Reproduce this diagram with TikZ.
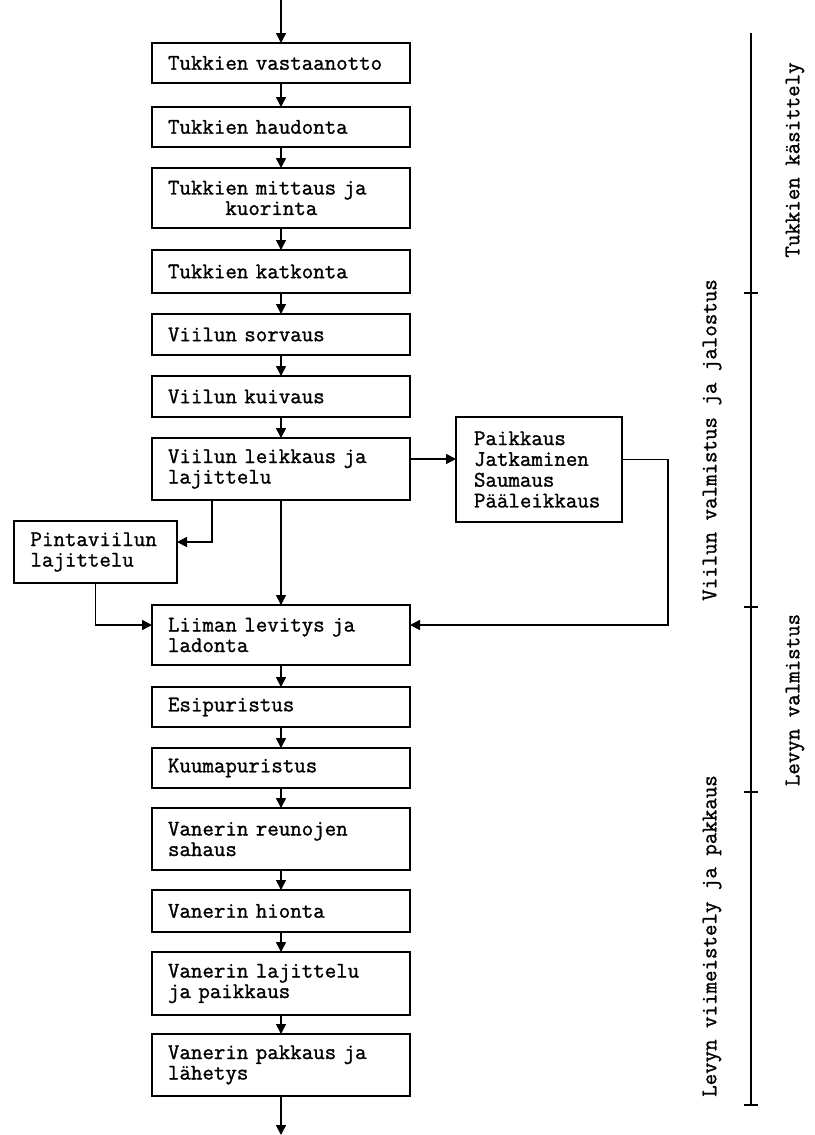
\documentclass[tikz,border=0pt]{standalone}
\usepackage{fontspec}
\newfontfamily\courfont{Latin Modern Mono}[FakeBold=1.2]
\usetikzlibrary{arrows.meta}
\begin{document}
\begin{tikzpicture}[x=1pt,y=-1pt,
  every node/.style={outer sep=0pt},
  txt/.style={font=\courfont\fontsize{22.3pt}{20.5pt}\selectfont},
  box/.style={txt, draw, line width=1.6pt, inner xsep=16pt, inner ysep=0pt,
              text width=226pt, align=left, anchor=north west},
  one/.style={box, minimum height=40pt},
  two/.style={box, minimum height=62pt},
  flow/.style={line width=1.6pt, -{Triangle[length=10pt,width=10pt]}},
  plain/.style={line width=1.5pt},
  side/.style={txt, rotate=90, inner sep=0pt}]
\path[use as bounding box, fill=white] (0,0) rectangle (814,1135);

% main column
\node[one] (b1) at (152,43) {Tukkien vastaanotto};
\node[one] (b2) at (152,107) {Tukkien haudonta};
\node[two, minimum height=60pt] (b3) at (152,168) {Tukkien mittaus ja\\\phantom{xxxxx}kuorinta};
\node[box, minimum height=43pt] (b4) at (152,250) {Tukkien katkonta};
\node[box, minimum height=41pt] (b5) at (152,314) {Viilun sorvaus};
\node[box, minimum height=41pt] (b6) at (152,376) {Viilun kuivaus};
\node[two] (b7) at (152,438) {Viilun leikkaus ja\\lajittelu};
\node[two, minimum height=60pt] (b8) at (152,605) {Liiman levitys ja\\ladonta};
\node[one] (b9) at (152,687) {Esipuristus};
\node[one] (b10) at (152,748) {Kuumapuristus};
\node[two] (b11) at (152,808) {Vanerin reunojen\\sahaus};
\node[box, minimum height=42pt] (b12) at (152,890) {Vanerin hionta};
\node[box, minimum height=63pt] (b13) at (152,952) {Vanerin lajittelu\\ja paikkaus};
\node[two] (b14) at (152,1034) {Vanerin pakkaus ja\\lähetys};

% side boxes
\node[box, text width=130pt, inner xsep=18pt, minimum height=105pt,
      font=\courfont\fontsize{22.3pt}{20.8pt}\selectfont] (pk) at (456,417)
      {Paikkaus\\Jatkaminen\\Saumaus\\Pääleikkaus};
\node[box, text width=130pt, inner xsep=16.5pt, minimum height=62pt] (pv) at (14,521)
      {Pintaviilun\\lajittelu};

% connectors
\coordinate (top) at (281,0);
\coordinate (bot) at (281,1135);
\draw[flow] (top) -- (b1.north);
\draw[flow] (b1) -- (b2);
\draw[flow] (b2) -- (b3);
\draw[flow] (b3) -- (b4);
\draw[flow] (b4) -- (b5);
\draw[flow] (b5) -- (b6);
\draw[flow] (b6) -- (b7);
\draw[flow] (b7) -- (b8);
\draw[flow] (b8) -- (b9);
\draw[flow] (b9) -- (b10);
\draw[flow] (b10) -- (b11);
\draw[flow] (b11) -- (b12);
\draw[flow] (b12) -- (b13);
\draw[flow] (b13) -- (b14);
\draw[flow] (b14.south) -- (bot);

\draw[flow] ([yshift=10pt]b7.east) -- ([yshift=10pt]b7.east -| pk.west);
\draw[flow] ([yshift=10pt]pk.east) -- ++(46,0) |- ([yshift=10pt]b8.east);
\draw[flow] ([xshift=-69pt]b7.south) |- ([yshift=10pt]pv.east);
\draw[flow] (pv.south) |- ([yshift=10pt]b8.west);

% phase bar
\coordinate (bt) at (751,33);
\coordinate (t1) at (751,293);
\coordinate (t2) at (751,607);
\coordinate (t3) at (751,792);
\coordinate (bb) at (751,1105);
\draw[plain] (bt) -- (bb);
\foreach \c in {t1,t2,t3,bb}
  \draw[plain] ([xshift=-7pt]\c) -- ([xshift=7pt]\c);

\node[side] (l1) at (795,160) {Tukkien käsittely};
\node[side] (l2) at (712,440) {Viilun valmistus ja jalostus};
\node[side] (l3) at (795,700) {Levyn valmistus};
\node[side] (l4) at (712,936) {Levyn viimeistely ja pakkaus};
\end{tikzpicture}
\end{document}
